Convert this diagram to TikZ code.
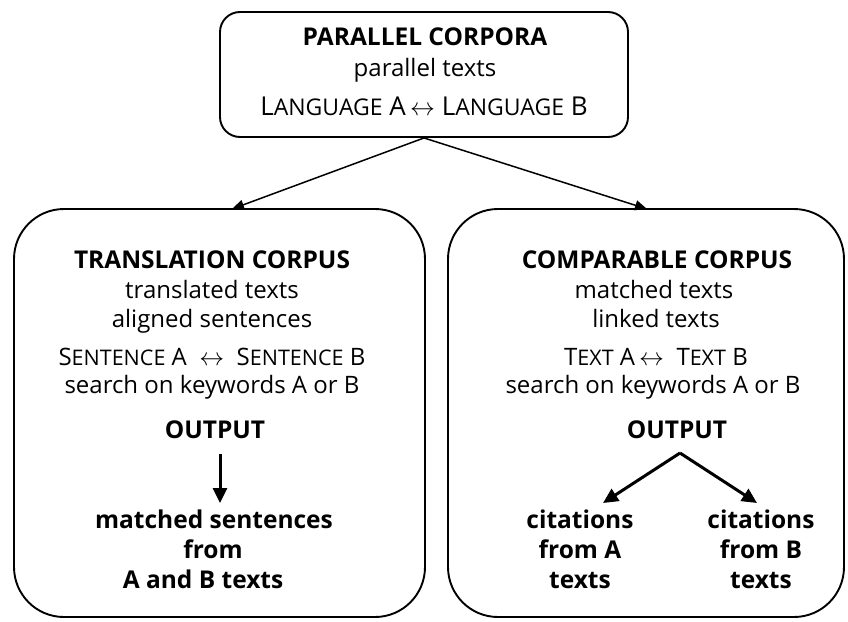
\documentclass[tikz,border=0pt]{standalone}
\usepackage{fontspec}
\setmainfont{Open Sans}
\usetikzlibrary{arrows.meta,calc}
\newcommand\scx[2]{#1{\fontsize{21.5}{22}\selectfont #2}}
\newcommand\scy[2]{#1{\fontsize{23}{24}\selectfont #2}}
\newcommand\lra{{\fontsize{30}{30}\selectfont$\leftrightarrow$}}
\tikzset{
  box/.style={draw, line width=1.9pt, rounded corners=#1},
  txt/.style={anchor=base, inner sep=0pt, font=\fontsize{24}{28}\selectfont},
  btxt/.style={anchor=base, inner sep=0pt, font=\fontsize{24.5}{28}\selectfont\bfseries},
  link/.style={line width=1.5pt, -{Triangle[length=12pt,width=10pt]}},
  outarrow/.style={line width=3pt, -{Triangle[length=15pt,width=14pt]}},
}
\begin{document}
\begin{tikzpicture}[x=1pt,y=-1pt]
\useasboundingbox (0,0) rectangle (848,621);
% boxes
\node[box=20pt, minimum width=408pt, minimum height=125pt, inner sep=0pt] (top) at (424,74.5) {};
\node[box=50pt, minimum width=411pt, minimum height=408pt, inner sep=0pt] (lbox) at (219.5,413) {};
\node[box=50pt, minimum width=396pt, minimum height=408pt, inner sep=0pt] (rbox) at (646,413) {};
\coordinate (ltip) at (232,209);
\coordinate (rtip) at (647,209);
\draw[link] (top.south) -- (ltip);
\draw[link] (top.south) -- (rtip);
% top texts
\node[btxt] (t1) at (425,45) {PARALLEL CORPORA};
\node[txt] (t2) at (425,76) {parallel texts};
\node[txt, font=\fontsize{26}{28}\selectfont] (t3) at (424,115) {\scy{L}{ANGUAGE} A\,\lra\ \scy{L}{ANGUAGE} B};
% left texts
\node[btxt] (l1) at (212,268) {TRANSLATION CORPUS};
\node[txt] (l2) at (212,298) {translated texts};
\node[txt] (l3) at (212,327) {aligned sentences};
\node[txt] (l4) at (212,365) {\scx{S}{ENTENCE} A \ \lra\ \ \scx{S}{ENTENCE} B};
\node[txt] (l5) at (212,393) {search on keywords A or B};
\node[btxt] (l6) at (215,438) {OUTPUT};
\coordinate (ldown) at (220,454);
\coordinate (ldend) at (220,503);
\node[btxt] (l7) at (214,528) {matched sentences};
\node[btxt] (l8) at (213,558) {from};
\node[btxt] (l9) at (203,588) {A and B texts};
\draw[outarrow] (ldown) -- (ldend);
% right texts
\node[btxt] (r1) at (657,268) {COMPARABLE CORPUS};
\node[txt] (r2) at (654,298) {matched texts};
\node[txt] (r3) at (656,327) {linked texts};
\node[txt] (r4) at (656,365) {\scx{T}{EXT} A\,\lra\ \ \scx{T}{EXT} B};
\node[txt] (r5) at (653,393) {search on keywords A or B};
\node[btxt] (r6) at (677,438) {OUTPUT};
\coordinate (rv) at (680,453);
\node[btxt] (ra1) at (580,528) {citations};
\node[btxt] (ra2) at (580,558) {from A};
\node[btxt] (ra3) at (580,588) {texts};
\node[btxt] (rb1) at (761,528) {citations};
\node[btxt] (rb2) at (761,558) {from B};
\node[btxt] (rb3) at (761,588) {texts};
\coordinate (rla) at (603,503);
\coordinate (rlb) at (757,503);
\draw[outarrow] (rv) -- (rla);
\draw[outarrow] (rv) -- (rlb);
\end{tikzpicture}
\end{document}
